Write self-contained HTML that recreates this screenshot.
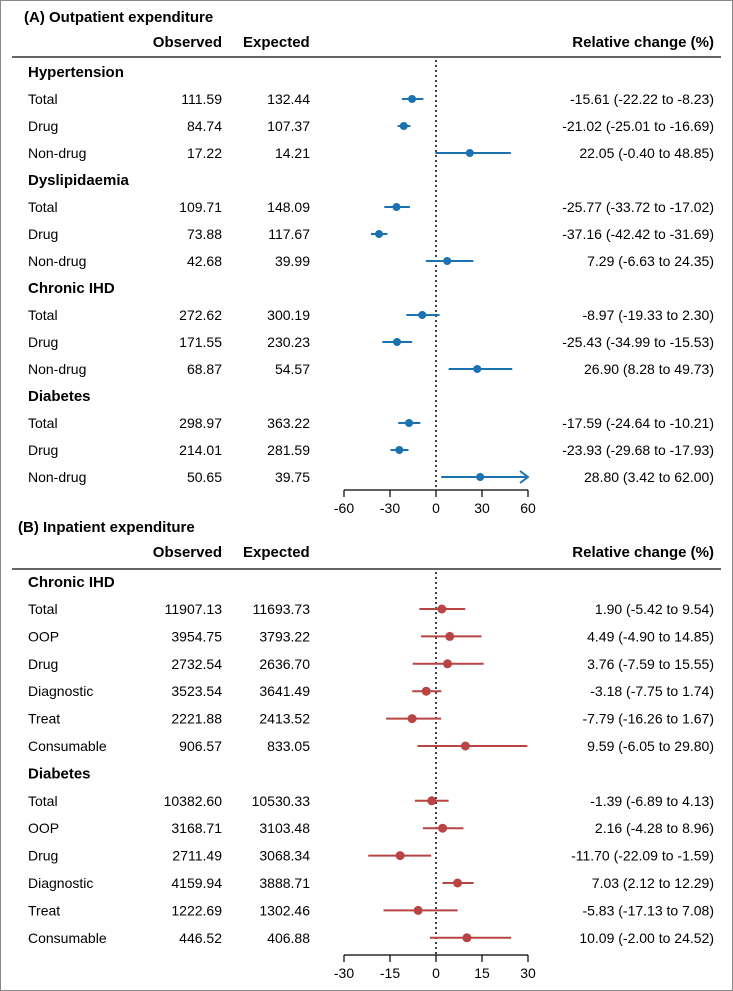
<!DOCTYPE html>
<html><head><meta charset="utf-8"><style>
body{margin:0;background:#fff}
svg{display:block;font-family:"Liberation Sans",Arial,sans-serif}
</style></head><body>
<svg id="c" width="733" height="991" viewBox="0 0 733 991">
<rect x="0.5" y="0.5" width="732" height="990" fill="#fff" stroke="#888"/>
</svg>
<script>
const aLabels=["Hypertension","Total","Drug","Non-drug","Dyslipidaemia","Total","Drug","Non-drug","Chronic IHD","Total","Drug","Non-drug","Diabetes","Total","Drug","Non-drug"];
const aObs=[null,"111.59","84.74","17.22",null,"109.71","73.88","42.68",null,"272.62","171.55","68.87",null,"298.97","214.01","50.65"];
const aExp=[null,"132.44","107.37","14.21",null,"148.09","117.67","39.99",null,"300.19","230.23","54.57",null,"363.22","281.59","39.75"];
const aEst=[null,-15.61,-21.02,22.05,null,-25.77,-37.16,7.29,null,-8.97,-25.43,26.90,null,-17.59,-23.93,28.80];
const aLo=[null,-22.22,-25.01,-0.40,null,-33.72,-42.42,-6.63,null,-19.33,-34.99,8.28,null,-24.64,-29.68,3.42];
const aHi=[null,-8.23,-16.69,48.85,null,-17.02,-31.69,24.35,null,2.30,-15.53,49.73,null,-10.21,-17.93,62.00];
const aTicks=[-60,-30,0,30,60];
const bLabels=["Chronic IHD","Total","OOP","Drug","Diagnostic","Treat","Consumable","Diabetes","Total","OOP","Drug","Diagnostic","Treat","Consumable"];
const bObs=[null,"11907.13","3954.75","2732.54","3523.54","2221.88","906.57",null,"10382.60","3168.71","2711.49","4159.94","1222.69","446.52"];
const bExp=[null,"11693.73","3793.22","2636.70","3641.49","2413.52","833.05",null,"10530.33","3103.48","3068.34","3888.71","1302.46","406.88"];
const bEst=[null,1.90,4.49,3.76,-3.18,-7.79,9.59,null,-1.39,2.16,-11.70,7.03,-5.83,10.09];
const bLo=[null,-5.42,-4.90,-7.59,-7.75,-16.26,-6.05,null,-6.89,-4.28,-22.09,2.12,-17.13,-2.00];
const bHi=[null,9.54,14.85,15.55,1.74,1.67,29.80,null,4.13,8.96,-1.59,12.29,7.08,24.52];
const bTicks=[-30,-15,0,15,30];

const svg=document.getElementById('c');
const NS="http://www.w3.org/2000/svg";
function el(tag,attrs,txt){const e=document.createElementNS(NS,tag);for(const k in attrs)e.setAttribute(k,attrs[k]);if(txt!=null)e.textContent=txt;svg.appendChild(e);return e;}
function fmt(v){return v.toFixed(2);}

function panel(o){
  const sx=v=>436+(v/o.max)*92;
  let t=el('text',{x:o.titleX,y:o.titleY+5,'font-size':15,'font-weight':'bold',fill:'#000'},o.title);
  
  const hy=o.headY+5;
  t=el('text',{x:222,y:hy,'font-size':15,'font-weight':'bold','text-anchor':'end'},'Observed');
  
  t=el('text',{x:243,y:hy,'font-size':15,'font-weight':'bold'},'Expected');
  
  t=el('text',{x:714,y:hy,'font-size':15,'font-weight':'bold','text-anchor':'end'},'Relative change (%)');
  
  t=el('line',{x1:12,x2:721,y1:o.lineY,y2:o.lineY,stroke:'#333','stroke-width':1.5});
  
  t=el('line',{x1:436,x2:436,y1:o.lineY+3,y2:o.axisY,stroke:'#000','stroke-width':1.5,'stroke-dasharray':'2,3'});
  
  o.labels.forEach((lab,i)=>{
    const y=o.rowY(i);const head=o.obs[i]==null;
    let e=el('text',{x:28,y:y+5,'font-size':head?15:14,'font-weight':head?'bold':'normal'},lab);
    
    if(head)return;
    e=el('text',{x:222,y:y+5,'font-size':14,'text-anchor':'end'},o.obs[i]);
    
    e=el('text',{x:310,y:y+5,'font-size':14,'text-anchor':'end'},o.exp[i]);
    
    e=el('text',{x:714,y:y+5,'font-size':14,'text-anchor':'end'},fmt(o.est[i])+' ('+fmt(o.lo[i])+' to '+fmt(o.hi[i])+')');
    
    const hi=Math.min(o.hi[i],o.max);
    e=el('line',{x1:sx(o.lo[i]),x2:sx(hi)-(o.hi[i]>o.max?2:0),y1:y,y2:y,stroke:o.color,'stroke-width':2});
    
    if(o.hi[i]>o.max){
      const ax=sx(o.max);
      e=el('polyline',{points:(ax-8)+','+(y-6)+' '+ax+','+y+' '+(ax-8)+','+(y+6),fill:'none',stroke:o.color,'stroke-width':2});
      
    }
    e=el('circle',{cx:sx(o.est[i]),cy:y,r:o.r,fill:o.color});
    
  });
  let a=el('line',{x1:sx(-o.max),x2:sx(o.max),y1:o.axisY,y2:o.axisY,stroke:'#000','stroke-width':1.2});
  
  o.ticks.forEach(v=>{
    let e=el('line',{x1:sx(v),x2:sx(v),y1:o.axisY,y2:o.axisY+7,stroke:'#000','stroke-width':1.2});
    
    e=el('text',{x:sx(v),y:o.axisY+23,'font-size':14,'text-anchor':'middle'},String(v));
    
  });
}
panel({title:'(A) Outpatient expenditure',titleX:24,titleY:17,headY:42,lineY:57,axisY:490,max:60,
  labels:aLabels,obs:aObs,exp:aExp,est:aEst,lo:aLo,hi:aHi,ticks:aTicks,color:'#1a73b0',r:4,
  rowY:i=>72+27*i});
panel({title:'(B) Inpatient expenditure',titleX:18,titleY:527,headY:552,lineY:569,axisY:955,max:30,
  labels:bLabels,obs:bObs,exp:bExp,est:bEst,lo:bLo,hi:bHi,ticks:bTicks,color:'#b84444',r:4.5,
  rowY:i=>(i==0?582:609+27.4*(i-1))});
</script>
</body></html>
